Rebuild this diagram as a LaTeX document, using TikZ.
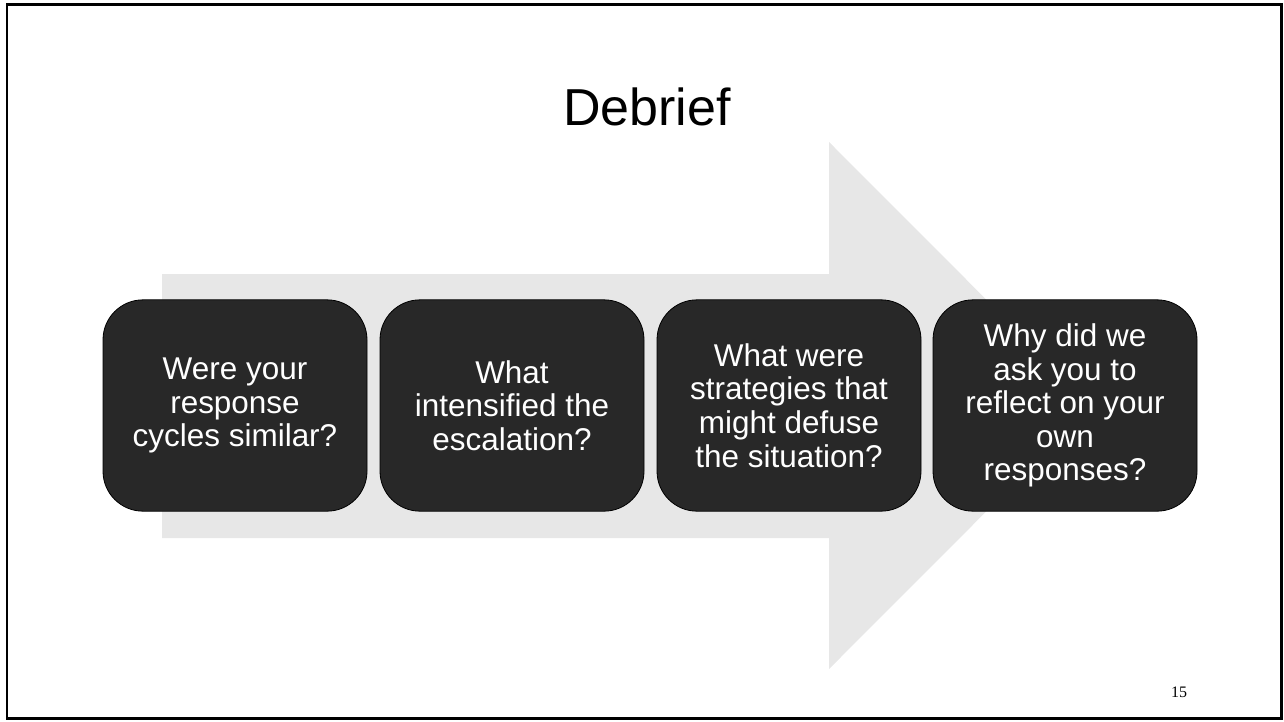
\documentclass[tikz,border=0pt]{standalone}
\usepackage{fontspec}
\setmainfont{Liberation Sans}
\newfontfamily\numfont{Liberation Serif}
\begin{document}
\begin{tikzpicture}[x=0.75pt,y=-0.75pt,
  qbox/.style={draw=black,line width=0.6pt,fill=boxgray,rounded corners=30pt,
    minimum width=198pt,minimum height=158.5pt,text=white,align=center,
    font=\fontsize{23.6}{25.2}\selectfont,inner sep=0pt},
  ]
\definecolor{boxgray}{HTML}{282828}
\definecolor{arrowgray}{HTML}{E7E7E7}
\useasboundingbox (0,0) rectangle (1284,721);
% slide frame
\draw[line width=1.6pt] (7,4.5) rectangle (1281.5,718.5);
% title
\node[font=\fontsize{39}{46}\selectfont,anchor=base] (title) at (647,125) {Debrief};
% background arrow
\fill[arrowgray] (162,274) -- (829,274) -- (829,142) -- (1092,405.5)
  -- (829,669) -- (829,538) -- (162,538) -- cycle;
% question boxes
\node[qbox] (q1) at (235,405.5) {Were your\\response\\cycles similar?};
\node[qbox] (q2) at (512,405.5) {What\\intensified the\\escalation?};
\node[qbox] (q3) at (789,405.5) {What were\\strategies that\\might defuse\\the situation?};
\node[qbox] (q4) at (1065,405.5) {Why did we\\ask you to\\reflect on your\\own\\responses?};
% page number
\node[font=\numfont\fontsize{12}{14}\selectfont,anchor=base] (page) at (1179,697) {15};
\end{tikzpicture}
\end{document}
